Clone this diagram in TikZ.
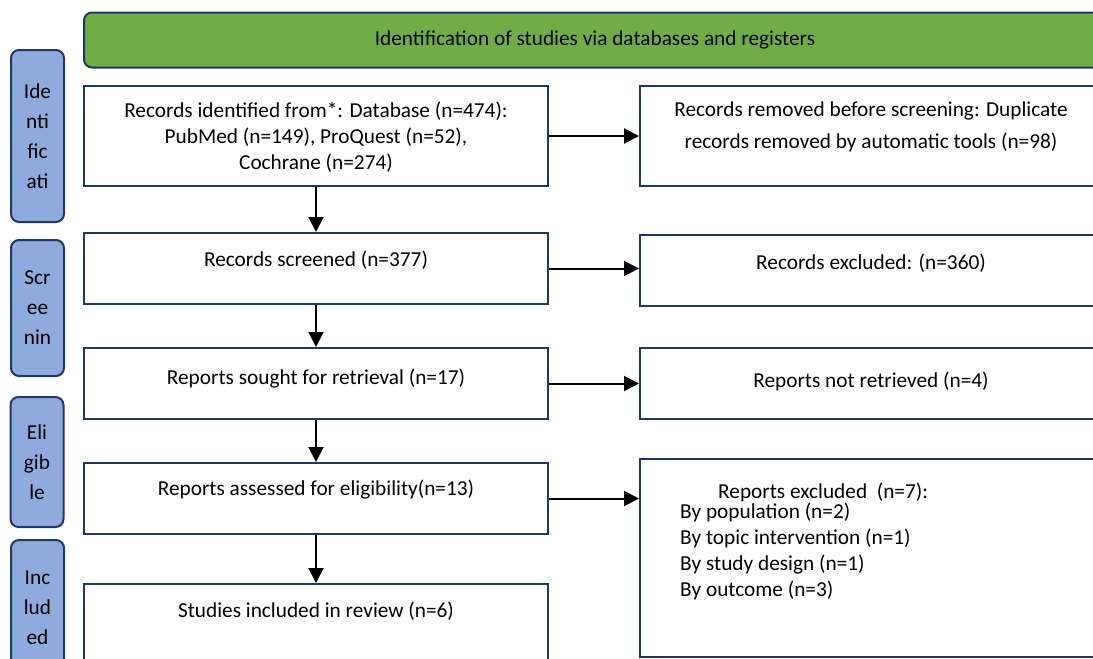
\documentclass[tikz,border=0pt]{standalone}
\usepackage{fontspec}
\setmainfont{Carlito}
\usetikzlibrary{arrows.meta}
\definecolor{navy}{HTML}{1F3864}
\definecolor{phasefill}{HTML}{8FAADC}
\definecolor{bannerfill}{HTML}{70AD47}
\tikzset{
  box/.style={draw=navy, line width=2pt, fill=white, inner sep=0pt},
  phasebox/.style={draw=navy, line width=2pt, fill=phasefill, rounded corners=8pt,
    minimum width=53pt, inner sep=0pt, align=center, font=\fontsize{21.3}{30}\selectfont},
  txt/.style={inner sep=0pt, align=center, font=\fontsize{21.3}{26}\selectfont},
  arr/.style={line width=2pt, -{Triangle[length=15pt,width=15pt]}}
}
\begin{document}
\begin{tikzpicture}[x=1pt,y=-1pt]
\useasboundingbox (0,0) rectangle (1093,659);
\clip (0,0) rectangle (1093,659);
\node[box, fill=bannerfill, rounded corners=8pt, minimum width=1022pt, minimum height=55pt] (banner) at (595,40) {};
\node[txt] (bannertxt) at (595,40) {Identification of studies via databases and registers};
\node[phasebox, minimum height=172pt] (ident) at (37.5,136) {Ide\\nti\\fic\\ati};
\node[phasebox, minimum height=136pt] (screen) at (37.5,308) {Scr\\ee\\nin};
\node[phasebox, minimum height=130pt] (elig) at (37,462) {Eli\\gib\\le};
\node[phasebox, minimum height=136pt] (incl) at (37.5,608) {Inc\\lud\\ed};
\node[box, minimum width=464pt, minimum height=100pt] (found) at (316,136) {};
\node[box, minimum width=464pt, minimum height=71pt] (screened) at (316,268.5) {};
\node[box, minimum width=464pt, minimum height=71pt] (sought) at (316,383.5) {};
\node[box, minimum width=464pt, minimum height=71pt] (assessed) at (316,498.5) {};
\node[box, minimum width=464pt, minimum height=100pt] (included) at (316,634) {};
\node[box, minimum width=465pt, minimum height=100pt] (removed) at (872.5,136) {};
\node[box, minimum width=465pt, minimum height=71pt] (excluded) at (872.5,270.5) {};
\node[box, minimum width=465pt, minimum height=71pt] (notretr) at (872.5,383.5) {};
\node[box, minimum width=465pt, minimum height=198pt] (rejected) at (872.5,558) {};
\node[txt] (foundtxt) at (316,137) {Records identified from*: Database (n=474):\\PubMed (n=149), ProQuest (n=52),\\Cochrane (n=274)};
\node[txt] (screenedtxt) at (316,260) {Records screened (n=377)};
\node[txt] (soughttxt) at (316,379) {Reports sought for retrieval (n=17)};
\node[txt] (assessedtxt) at (316,490) {Reports assessed for eligibility(n=13)};
\node[txt] (includedtxt) at (316,611) {Studies included in review (n=6)};
\node[txt] (removedtxt) at (871,127) {Records removed before screening: Duplicate\\[6pt]records removed by automatic tools (n=98)};
\node[txt] (excludedtxt) at (871,263) {Records excluded: (n=360)};
\node[txt] (notretrtxt) at (871,381) {Reports not retrieved (n=4)};
\node[txt, align=left, anchor=west] (rejectedtxt) at (680,541) {\hspace{38pt}Reports excluded~~(n=7):\\[-6pt]By population (n=2)\\By topic intervention (n=1)\\By study design (n=1)\\By outcome (n=3)};
\draw[arr] (found) -- (screened);
\draw[arr] (screened) -- (sought);
\draw[arr] (sought) -- (assessed);
\draw[arr] (assessed) -- (included);
\draw[arr] (found) -- (removed);
\draw[arr] (screened.east) -- (screened.east -| excluded.west);
\draw[arr] (sought) -- (notretr);
\draw[arr] (assessed.east) -- (assessed.east -| rejected.west);
\end{tikzpicture}
\end{document}
